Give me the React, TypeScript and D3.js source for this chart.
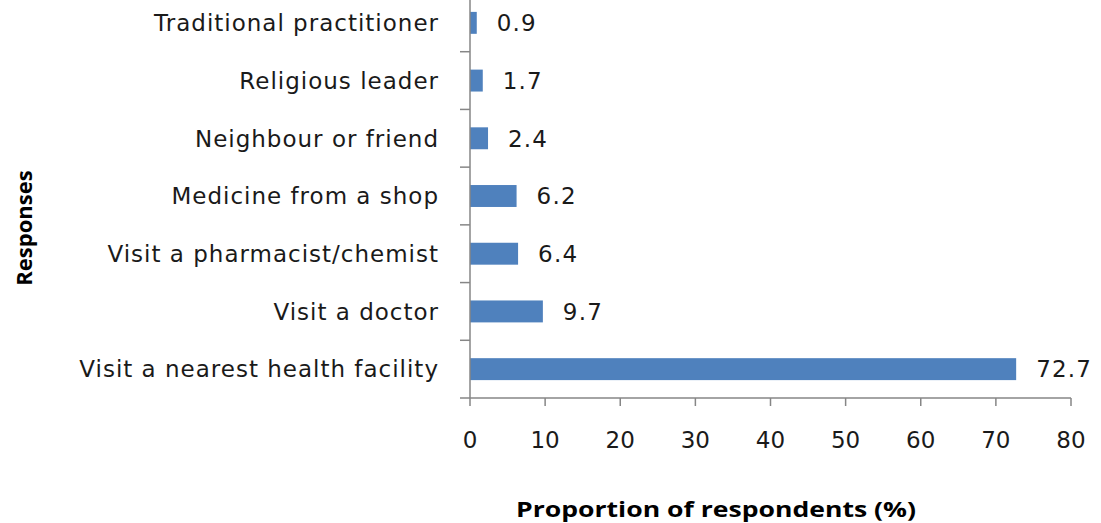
import React from "react";
import * as d3 from "d3";

const categories = [
  "Traditional practitioner",
  "Religious leader",
  "Neighbour or friend",
  "Medicine from a shop",
  "Visit a pharmacist/chemist",
  "Visit a doctor",
  "Visit a nearest health facility",
];
const values = [0.9, 1.7, 2.4, 6.2, 6.4, 9.7, 72.7];
const xTicks = [0, 10, 20, 30, 40, 50, 60, 70, 80];

const W = 1101;
const H = 523;
const left = 470;
const right = 1071;
const top = -6;
const bottom = 398;

export default function App() {
  const x = d3.scaleLinear().domain([0, 80]).range([left, right]);
  const y = d3.scaleBand<string>().domain(categories).range([top, bottom]).paddingInner(0.62).paddingOuter(0.31);
  const band = (bottom - top) / categories.length;
  const boundaries = d3.range(categories.length + 1).map((i) => top + i * band);
  const axisColor = "#868686";
  const font = "'DejaVu Sans', Verdana, sans-serif";
  return (
    <svg width={W} height={H} style={{ position: "absolute", left: 0, top: 0, background: "#fff" }}>
      {categories.map((c, i) => (
        <g key={c}>
          <rect x={x(0)} y={y(c)!} width={x(values[i]) - x(0)} height={y.bandwidth()} fill="#4F81BD" />
          <text x={x(values[i]) + 20} y={y(c)! + y.bandwidth() / 2} dy="0.36em" fontFamily={font} fontSize={23} letterSpacing={1.2} fill="#1a1a1a">
            {values[i].toFixed(1)}
          </text>
          <text x={left - 31} y={y(c)! + y.bandwidth() / 2} dy="0.36em" textAnchor="end" fontFamily={font} fontSize={23} letterSpacing={1} fill="#1a1a1a">
            {c}
          </text>
        </g>
      ))}
      <line x1={left} x2={left} y1={0} y2={bottom} stroke={axisColor} strokeWidth={1.5} />
      {boundaries.filter((b) => b > 0).map((b, i) => (
        <line key={i} x1={left - 10} x2={left} y1={b} y2={b} stroke={axisColor} strokeWidth={1.5} />
      ))}
      <line x1={left} x2={right} y1={bottom} y2={bottom} stroke={axisColor} strokeWidth={1.5} />
      {xTicks.map((t) => (
        <g key={t}>
          <line x1={x(t)} x2={x(t)} y1={bottom} y2={bottom + 8} stroke={axisColor} strokeWidth={1.5} />
          <text x={x(t)} y={440} dy="0.36em" textAnchor="middle" fontFamily={font} fontSize={23} fill="#1a1a1a">
            {t}
          </text>
        </g>
      ))}
      <text x={716} y={517} textAnchor="middle" textLength={400} lengthAdjust="spacingAndGlyphs" fontFamily="'Open Sans', sans-serif" fontWeight="bold" fontSize={22} fill="#000">
        Proportion of respondents (%)
      </text>
      <text transform="translate(32,228) rotate(-90)" textAnchor="middle" fontFamily="'Open Sans', sans-serif" fontWeight="bold" fontSize={22} fill="#000">
        Responses
      </text>
    </svg>
  );
}
